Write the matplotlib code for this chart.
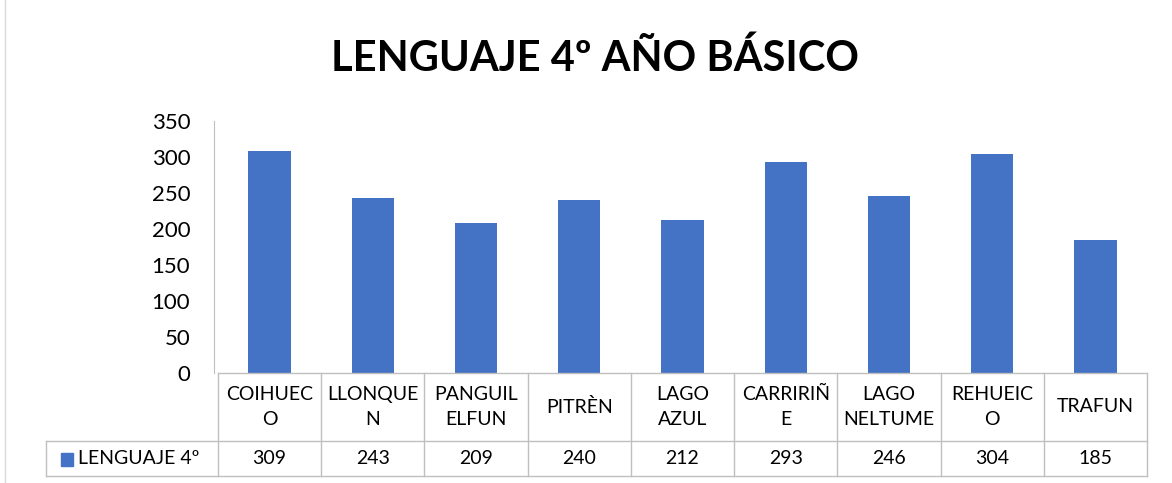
import matplotlib.pyplot as plt
from matplotlib.lines import Line2D
from matplotlib.patches import Rectangle
import matplotlib.transforms as mtransforms

plt.rcParams['font.family'] = ['Lato', 'DejaVu Sans']

escuelas = ["COIHUEC\nO", "LLONQUE\nN", "PANGUIL\nELFUN", "PITRÈN", "LAGO\nAZUL",
            "CARRIRIÑ\nE", "LAGO\nNELTUME", "REHUEIC\nO", "TRAFUN"]
puntajes = [309, 243, 209, 240, 212, 293, 246, 304, 185]
serie = "LENGUAJE 4º"
titulo = "LENGUAJE 4º AÑO BÁSICO"

W, H = 1172, 483
fig = plt.figure(figsize=(W / 100, H / 100), dpi=100)

def fx(px):
    return px / W

def fy(py):
    return 1 - py / H

x0, x1, y0, y1 = 218, 1147, 373, 121
ax = fig.add_axes([fx(x0), fy(y0), fx(x1) - fx(x0), fy(y1) - fy(y0)])
azul = "#4472c4"
gris = "#bfbfbf"
ax.bar(range(len(puntajes)), puntajes, width=0.41, color=azul)
ax.set_xlim(-0.5, len(puntajes) - 0.5)
ax.set_ylim(0, 350)
ax.set_yticks(range(0, 351, 50))
ax.tick_params(axis='y', length=0, labelsize=16, pad=17)
ax.set_xticks([])
for s in ["top", "right", "bottom"]:
    ax.spines[s].set_visible(False)
ax.spines["left"].set_color(gris)
ax.spines["left"].set_position(("outward", 3))

fig.text(0.508, fy(58), titulo, ha="center", va="center", fontsize=30, fontweight="bold")

# tabla de datos
tr = mtransforms.blended_transform_factory(ax.transData, fig.transFigure)
r0, r1, r2 = fy(373), fy(441), fy(476)
lw = 1.0
fig.add_artist(Line2D([fx(x0), fx(x1)], [r0, r0], color=gris, lw=lw))
fig.add_artist(Line2D([fx(46), fx(x1)], [r1, r1], color=gris, lw=lw))
fig.add_artist(Line2D([fx(46), fx(x1)], [r2, r2], color=gris, lw=lw))
fig.add_artist(Line2D([fx(46), fx(46)], [r1, r2], color=gris, lw=lw))
for i in range(len(puntajes) + 1):
    fig.add_artist(Line2D([i - 0.5, i - 0.5], [r0, r2], color=gris, lw=lw, transform=tr))
for i, (e, p) in enumerate(zip(escuelas, puntajes)):
    fig.text(i, (r0 + r1) / 2, e, transform=tr, ha="center", va="center",
             fontsize=14, linespacing=1.6)
    fig.text(i, (r1 + r2) / 2, str(p), transform=tr, ha="center", va="center", fontsize=14)
fig.add_artist(Rectangle((fx(61), fy(466)), fx(12), fy(453) - fy(466), color=azul))
fig.text(fx(78), (r1 + r2) / 2, serie, ha="left", va="center", fontsize=14)

# borde del gráfico
fig.add_artist(Line2D([fx(5), fx(5)], [0, 1], color="#d9d9d9", lw=1))

fig.savefig("out.png", dpi=100)
